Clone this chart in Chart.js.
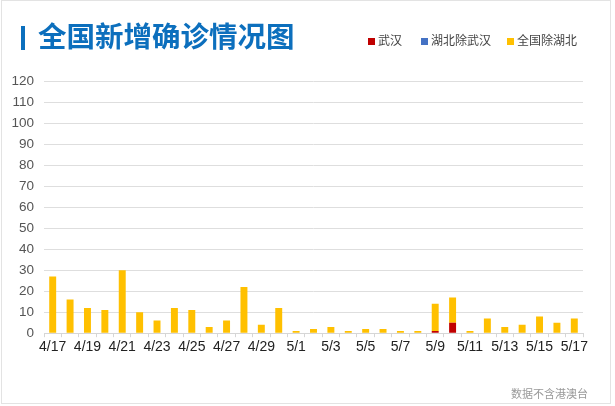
<!DOCTYPE html>
<html>
<head>
<meta charset="utf-8">
<script src="https://cdn.jsdelivr.net/npm/chart.js@4"></script>
<style>
  html, body { margin: 0; padding: 0; background: #fff; }
  #wrap { position: relative; width: 615px; height: 406px; font-family: "Liberation Sans", Arial, "Noto Sans CJK SC", sans-serif; }
  #frame { position: absolute; left: 1px; top: 0; width: 610px; height: 404px; border: 1px solid #e3e3e3; box-sizing: border-box; }
  #title { position: absolute; left: 21px; top: 20px; height: 30px; line-height: 30px; font-size: 28.5px; font-weight: bold; color: #0c6fbd; font-family: "Noto Sans CJK SC", sans-serif; white-space: nowrap; }
  #title .bar { display: inline-block; width: 4px; height: 24px; background: #0c6fbd; vertical-align: -3px; margin-right: 13px; }
  #legend { position: absolute; top: 32px; left: 368px; font-size: 12px; color: #444; font-family: "Noto Sans CJK SC", sans-serif; white-space: nowrap; }
  #legend span.item { position: absolute; top: 0; line-height: 16px; }
  #legend i { display: inline-block; width: 7px; height: 7px; margin-right: 3px; vertical-align: 0px; }
  #note { position: absolute; right: 27px; top: 385px; font-size: 11px; color: #999; font-family: "Noto Sans CJK SC", sans-serif; }
  canvas { position: absolute; left: 0; top: 0; }
</style>
</head>
<body>
<div id="wrap">
  <div id="frame"></div>
  <canvas id="newCases" width="615" height="406"></canvas>
  <div id="title"><span class="bar"></span>全国新增确诊情况图</div>
  <div id="legend"></div>
  <div id="note">数据不含港澳台</div>
</div>
<script>
// dates shown on the x axis
const days = ['4/17', '4/18', '4/19', '4/20', '4/21', '4/22', '4/23', '4/24', '4/25', '4/26',
              '4/27', '4/28', '4/29', '4/30', '5/1', '5/2', '5/3', '5/4', '5/5', '5/6',
              '5/7', '5/8', '5/9', '5/10', '5/11', '5/12', '5/13', '5/14', '5/15', '5/16', '5/17'];

// new confirmed cases per day
const wuhan        = [0, 0, 0, 0, 0, 0, 0, 0, 0, 0, 0, 0, 0, 0, 0, 0, 0, 0, 0, 0, 0, 0, 1, 5, 0, 0, 0, 0, 0, 0, 0];
const hubeiNoWuhan = [0, 0, 0, 0, 0, 0, 0, 0, 0, 0, 0, 0, 0, 0, 0, 0, 0, 0, 0, 0, 0, 0, 0, 0, 0, 0, 0, 0, 0, 0, 0];
const restOfChina  = [27, 16, 12, 11, 30, 10, 6, 12, 11, 3, 6, 22, 4, 12, 1, 2, 3, 1, 2, 2, 1, 1, 13, 12, 1, 7, 3, 4, 8, 5, 7];

const yTicks = [0, 10, 20, 30, 40, 50, 60, 70, 80, 90, 100, 110, 120];

const seriesNames = ['武汉', '湖北除武汉', '全国除湖北'];
const seriesColors = ['#c00000', '#4472c4', '#ffc000'];

// legend in html so it sits on the title line
const legendX = [0, 53, 139];
const legendBox = document.getElementById('legend');
seriesNames.forEach(function(name, i) {
    const item = document.createElement('span');
    item.className = 'item';
    item.style.left = legendX[i] + 'px';
    item.innerHTML = '<i style="background:' + seriesColors[i] + '"></i>' + name;
    legendBox.appendChild(item);
});

const ctx = document.getElementById('newCases').getContext('2d');
new Chart(ctx, {
    type: 'bar',
    data: {
        labels: days,
        datasets: [
            { label: seriesNames[0], data: wuhan, backgroundColor: seriesColors[0] },
            { label: seriesNames[1], data: hubeiNoWuhan, backgroundColor: seriesColors[1] },
            { label: seriesNames[2], data: restOfChina, backgroundColor: seriesColors[2] }
        ]
    },
    options: {
        responsive: false,
        animation: false,
        layout: { padding: { top: 81, right: 32, bottom: 48, left: 0 } },
        datasets: { bar: { categoryPercentage: 1, barPercentage: 0.4 } },
        plugins: { legend: { display: false }, tooltip: { enabled: false } },
        scales: {
            x: {
                stacked: true,
                grid: { drawOnChartArea: false, drawTicks: true, tickLength: 4, color: '#d6d6d6', offset: true },
                border: { color: '#d6d6d6' },
                ticks: {
                    autoSkip: false,
                    maxRotation: 0,
                    padding: 2,
                    color: '#222',
                    font: { size: 14, family: '"Liberation Sans", Arial, sans-serif' },
                    callback: function(value, index) { return index % 2 === 0 ? days[index] : ''; }
                }
            },
            y: {
                stacked: true,
                min: 0,
                max: 120,
                afterFit: function(scale) { scale.width = 44; },
                afterBuildTicks: function(scale) { scale.ticks = yTicks.map(function(v) { return { value: v }; }); },
                grid: { drawTicks: false, color: '#dedede' },
                border: { display: false },
                ticks: {
                    padding: 10,
                    color: '#555',
                    font: { size: 13.5, family: '"Liberation Sans", Arial, sans-serif' }
                }
            }
        }
    }
});
</script>
</body>
</html>
